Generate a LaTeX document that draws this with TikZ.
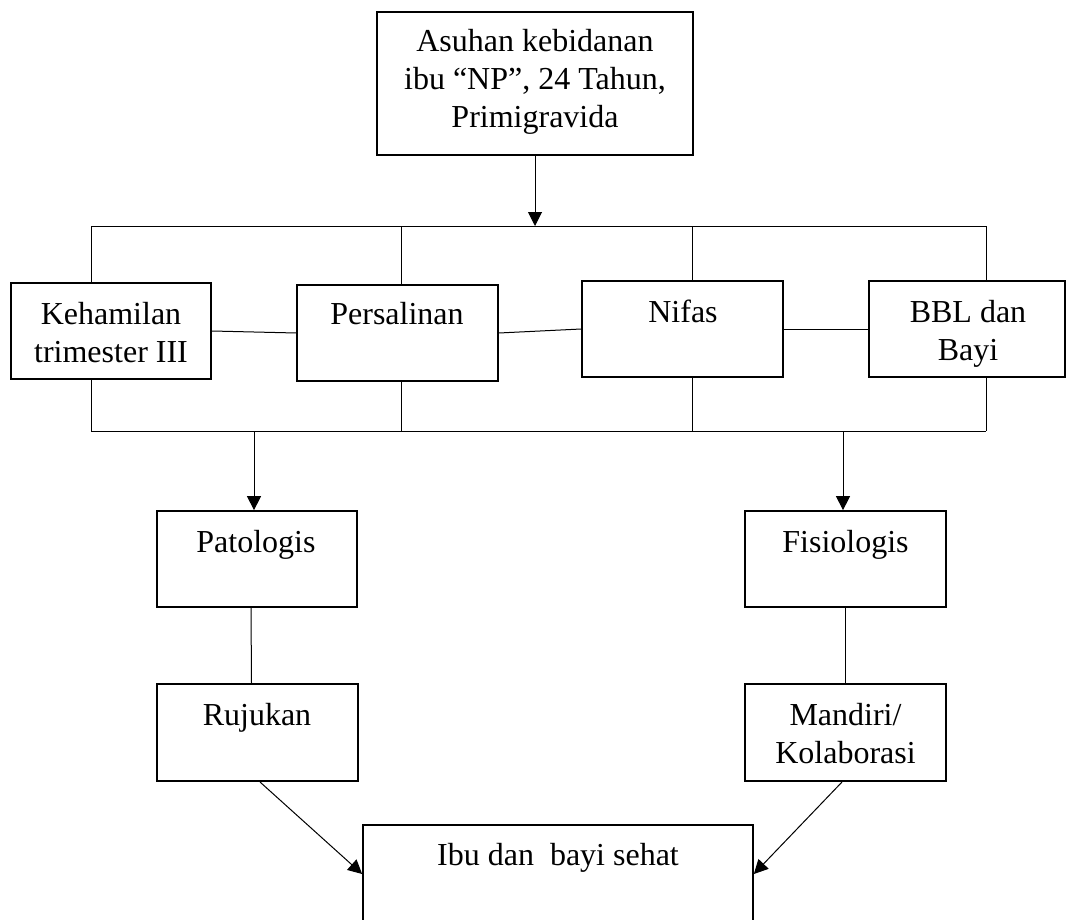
\documentclass[tikz,border=0pt]{standalone}
\usepackage{fontspec}
\setmainfont{Liberation Serif}
\usetikzlibrary{arrows.meta}
\begin{document}
\begin{tikzpicture}[x=0.75pt,y=-0.75pt,
  box/.style={draw,line width=1.3pt,inner sep=0pt,rectangle},
  txt/.style={anchor=base,align=center,inner sep=0pt,font=\fontsize{24}{28.5}\selectfont},
  conn/.style={line width=0.75pt},
  arr/.style={line width=0.75pt,-{Triangle[length=10.5pt,width=10.5pt]}}]
\clip (0,0) rectangle (1067,920);
\fill[white] (0,0) rectangle (1067,920);
% boxes
\node[box,minimum width=237pt,minimum height=107.25pt] (top) at (535,83.5) {};
\node[box,minimum width=150pt,minimum height=72pt] (K) at (111,331) {};
\node[box,minimum width=150.75pt,minimum height=72pt] (P) at (397.5,333) {};
\node[box,minimum width=150.75pt,minimum height=72pt] (N) at (682.5,329) {};
\node[box,minimum width=147pt,minimum height=72pt] (B) at (967,329) {};
\node[box,minimum width=150pt,minimum height=72pt] (Pat) at (257,559) {};
\node[box,minimum width=150.75pt,minimum height=72pt] (Fis) at (845.5,559) {};
\node[box,minimum width=150.75pt,minimum height=72.75pt] (Ruj) at (257.5,732.5) {};
\node[box,minimum width=150.75pt,minimum height=72.75pt] (Man) at (845.5,732.5) {};
\node[box,minimum width=292.5pt,minimum height=78.75pt] (Ibu) at (558,877.5) {};
% texts (anchor=base is the baseline of the last line)
\node[txt] (topt) at (535,128) {Asuhan kebidanan\\ibu “NP”, 24 Tahun,\\Primigravida};
\node[txt] (Kt) at (111,362) {Kehamilan\\trimester III};
\node[txt] (Pt) at (397,324) {Persalinan};
\node[txt] (Nt) at (683,322) {Nifas};
\node[txt] (Bt) at (968,360) {BBL dan\\Bayi};
\node[txt] (Patt) at (256,552) {Patologis};
\node[txt] (Fist) at (845.5,552) {Fisiologis};
\node[txt] (Rujt) at (257,725) {Rujukan};
\node[txt] (Mant) at (845.5,763) {Mandiri/\\Kolaborasi};
\node[txt] (Ibut) at (558,865) {Ibu dan\ \ bayi sehat};
% bus coordinates
\coordinate (busL) at (91,226);
\coordinate (busR) at (986,226);
\coordinate (busP) at (401,226);
\coordinate (busN) at (692,226);
\coordinate (busC) at (535,226);
\coordinate (lowL) at (91,431);
\coordinate (lowR) at (986,431);
\coordinate (lowP) at (401,431);
\coordinate (lowN) at (692,431);
\coordinate (aPat) at (254,431);
\coordinate (aFis) at (843,431);
% connectors
\draw[arr] (top.south -| busC) -- (busC);
\draw[conn] (busL) -- (busR);
\draw[conn] (busL) -- (busL |- K.north);
\draw[conn] (busP) -- (busP |- P.north);
\draw[conn] (busN) -- (busN |- N.north);
\draw[conn] (busR) -- (busR |- B.north);
\draw[conn] (K.east) -- (P.west);
\draw[conn] (P.east) -- (N.west);
\draw[conn] (N.east) -- (B.west);
\draw[conn] (lowL |- K.south) -- (lowL);
\draw[conn] (lowP |- P.south) -- (lowP);
\draw[conn] (lowN |- N.south) -- (lowN);
\draw[conn] (lowR |- B.south) -- (lowR);
\draw[conn] (lowL) -- (lowR);
\draw[arr] (aPat) -- (aPat |- Pat.north);
\draw[arr] (aFis) -- (aFis |- Fis.north);
\draw[conn] ([xshift=-4.5pt]Pat.south) -- ([xshift=-4.5pt]Ruj.north);
\draw[conn] (Fis.south) -- (Man.north);
\coordinate (dL) at (260,782);
\coordinate (dR) at (842,782);
\draw[arr] (dL) -- (Ibu.west |- 0,874);
\draw[arr] (dR) -- (Ibu.east |- 0,874);
\end{tikzpicture}
\end{document}
